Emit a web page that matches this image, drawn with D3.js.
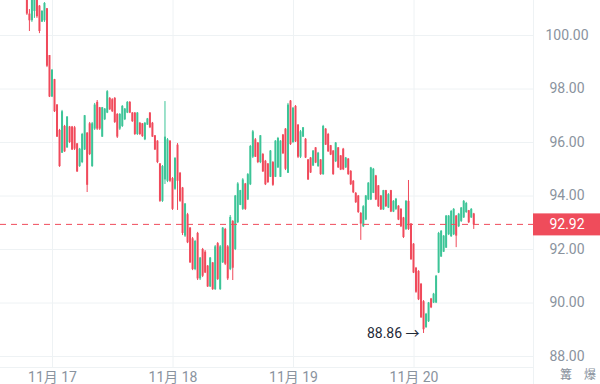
<!DOCTYPE html>
<html>
<head>
<meta charset="utf-8">
<script src="https://cdn.jsdelivr.net/npm/d3@7"></script>
<style>
  body { margin: 0; background: #fff; }
  svg { display: block; font-family: Roboto, "Noto Sans CJK SC", sans-serif; }
</style>
</head>
<body>
<svg id="chart" width="600" height="384"></svg>
<script>
// 30 minute candles, first one at 19:00 on 16 Nov
const startTime = new Date(2022, 10, 16, 19, 0)
const stepMinutes = 30

const opens = [
  101.60, 100.80, 100.55, 100.90, 101.40, 101.10, 100.50, 100.55, 101.00, 99.25,
  97.70, 98.35, 97.40, 96.45, 95.60, 96.60, 95.80, 96.58, 96.58, 96.55,
  95.95, 95.10, 95.25, 95.72, 96.35, 96.70, 95.10, 96.50, 97.50, 97.30,
  96.20, 96.85, 97.10, 97.65, 97.60, 97.65, 97.05, 96.50, 96.60, 96.85,
  97.10, 97.50, 97.10, 97.10, 96.30, 96.72, 96.70, 96.10, 96.65, 97.10,
  96.72, 96.25, 96.05, 95.20, 93.80, 94.60, 94.55, 96.05, 94.65, 94.25,
  95.90, 94.85, 94.30, 92.50, 93.30, 92.80, 92.40, 91.25, 92.60, 90.90,
  92.00, 91.90, 91.38, 90.60, 91.50, 90.50, 92.22, 90.50, 91.50, 92.75,
  92.10, 91.25, 93.05, 92.00, 93.00, 93.65, 93.50, 94.45, 93.85, 94.42,
  95.45, 96.10, 95.98, 95.25, 95.55, 95.30, 95.20, 94.70, 95.25, 94.70,
  95.05, 94.70, 96.28, 96.50, 94.85, 97.55, 96.00, 97.35, 96.65, 95.45,
  96.20, 96.12, 95.35, 95.42, 95.12, 95.80, 95.10, 95.35, 94.80, 96.50,
  96.30, 95.88, 95.68, 95.28, 95.80, 95.50, 95.75, 95.05, 95.38, 94.92,
  94.55, 94.10, 94.00, 93.35, 92.85, 93.10, 93.85, 93.85, 94.10, 94.75,
  94.38, 94.00, 93.48, 94.20, 93.55, 94.20, 93.40, 93.50, 93.62, 93.50,
  93.18, 92.75, 93.80, 92.95, 92.20, 91.30, 91.18, 90.70, 90.05, 89.08,
  89.30, 90.15, 90.00, 90.00, 91.12, 91.72, 91.90, 92.05, 92.55, 92.48,
  92.55, 93.25, 92.85, 93.05, 93.18, 93.38, 93.45, 93.18, 93.33
]
const highs = [
  101.68, 100.97, 101.50, 101.50, 101.50, 101.12, 100.93, 101.23, 101.01, 99.25,
  98.73, 98.36, 97.42, 96.49, 97.20, 96.64, 96.97, 96.60, 96.60, 96.60,
  95.96, 95.78, 96.34, 97.01, 96.37, 96.75, 96.75, 97.46, 97.57, 97.31,
  97.31, 97.27, 97.94, 97.68, 97.64, 97.68, 97.08, 97.08, 97.38, 97.27,
  97.53, 97.53, 97.12, 97.12, 97.12, 96.75, 96.71, 96.75, 96.90, 97.12,
  96.75, 96.26, 96.07, 95.21, 95.14, 97.53, 96.15, 96.07, 94.69, 95.44,
  95.96, 94.88, 94.32, 93.72, 93.35, 92.82, 92.45, 92.34, 92.64, 91.70,
  92.04, 91.96, 91.40, 91.70, 91.51, 92.15, 92.26, 92.15, 92.82, 92.79,
  92.15, 93.27, 93.08, 94.02, 94.50, 94.21, 94.65, 94.47, 94.84, 95.89,
  96.45, 96.15, 96.00, 96.26, 95.59, 95.33, 95.21, 95.70, 95.29, 96.07,
  96.19, 96.07, 96.30, 96.52, 97.46, 97.57, 97.31, 97.38, 96.67, 96.45,
  96.56, 96.15, 95.36, 95.44, 95.70, 95.81, 95.63, 95.36, 96.64, 96.52,
  96.34, 95.89, 95.70, 96.00, 95.81, 95.51, 95.78, 95.44, 95.40, 94.95,
  94.58, 94.13, 94.02, 93.38, 93.64, 94.02, 94.50, 95.07, 95.03, 94.77,
  94.39, 94.02, 94.21, 94.21, 94.09, 94.21, 93.83, 93.91, 93.64, 93.53,
  93.20, 93.83, 94.58, 92.97, 92.22, 91.33, 91.21, 90.73, 90.09, 89.61,
  90.02, 90.17, 90.36, 91.03, 92.64, 92.71, 92.52, 93.27, 93.27, 93.46,
  93.53, 93.27, 93.35, 93.57, 93.83, 93.76, 93.46, 93.53, 93.35
]
const lows = [
  100.75, 100.15, 100.49, 100.64, 100.64, 100.07, 100.49, 100.49, 98.80, 97.68,
  97.68, 97.12, 96.19, 95.07, 95.59, 95.63, 95.78, 95.96, 95.70, 95.70,
  94.88, 95.07, 95.21, 95.70, 94.13, 95.51, 95.07, 96.45, 96.45, 96.45,
  96.19, 96.82, 97.08, 97.20, 97.12, 96.71, 96.15, 96.45, 96.56, 96.82,
  97.08, 97.08, 96.75, 96.26, 96.26, 96.26, 96.19, 96.07, 96.64, 96.52,
  96.19, 95.70, 95.21, 93.76, 93.76, 94.43, 94.50, 94.50, 93.46, 94.21,
  93.46, 93.76, 92.52, 92.45, 92.22, 91.48, 91.21, 91.21, 90.84, 90.84,
  90.95, 91.10, 90.58, 90.58, 90.47, 90.47, 90.84, 90.47, 91.48, 91.40,
  90.84, 91.21, 90.84, 91.96, 92.97, 93.64, 93.46, 93.46, 93.83, 94.39,
  95.40, 95.44, 95.21, 95.21, 94.88, 94.39, 94.47, 94.69, 94.36, 94.69,
  95.03, 94.69, 95.55, 94.95, 94.84, 95.89, 95.96, 96.00, 95.40, 95.40,
  96.19, 95.40, 94.58, 94.84, 95.10, 95.21, 95.07, 94.77, 94.77, 95.89,
  95.63, 95.51, 94.77, 95.25, 95.03, 94.95, 94.95, 95.03, 94.77, 94.39,
  94.09, 93.72, 93.35, 92.34, 92.82, 93.08, 93.83, 93.83, 94.09, 93.83,
  93.57, 93.46, 93.46, 93.57, 93.53, 93.38, 93.38, 93.46, 93.08, 92.82,
  92.41, 92.71, 92.71, 91.59, 91.10, 90.36, 90.09, 89.42, 88.86, 89.05,
  89.27, 89.79, 89.98, 89.98, 91.10, 91.70, 91.89, 92.04, 92.52, 92.45,
  92.52, 92.07, 92.82, 93.01, 93.16, 93.35, 92.97, 93.16, 92.75
]
const closes = [
  100.80, 100.55, 101.35, 101.40, 100.70, 100.15, 100.90, 101.20, 98.85, 97.70,
  98.70, 97.15, 96.20, 95.10, 97.15, 95.65, 96.95, 96.00, 95.72, 95.75,
  94.90, 95.75, 96.30, 97.00, 94.40, 95.55, 96.70, 97.40, 96.50, 96.50,
  97.30, 97.25, 97.90, 97.22, 97.15, 96.75, 96.20, 97.05, 97.35, 97.25,
  97.50, 97.10, 96.78, 96.30, 97.10, 96.30, 96.22, 96.72, 96.88, 96.55,
  96.20, 95.72, 95.25, 93.80, 95.10, 96.20, 96.10, 94.55, 93.50, 95.40,
  94.55, 93.80, 92.60, 93.70, 92.25, 91.50, 91.25, 92.30, 90.90, 91.68,
  91.00, 91.12, 90.60, 91.68, 90.50, 92.10, 90.88, 92.10, 92.80, 91.45,
  90.90, 93.20, 91.30, 94.00, 94.45, 94.20, 94.60, 93.50, 94.80, 95.85,
  96.40, 95.45, 95.25, 96.25, 94.90, 94.42, 94.50, 95.68, 94.40, 96.05,
  96.15, 96.05, 95.58, 95.00, 97.40, 95.92, 97.28, 96.02, 95.45, 96.40,
  96.55, 95.42, 94.60, 94.86, 95.68, 95.23, 95.60, 94.80, 96.60, 95.90,
  95.65, 95.53, 94.80, 95.98, 95.05, 94.97, 94.98, 95.42, 94.80, 94.42,
  94.12, 93.75, 93.38, 92.95, 93.60, 94.00, 94.48, 95.05, 95.00, 93.85,
  93.60, 93.48, 94.20, 93.60, 94.05, 93.40, 93.80, 93.88, 93.10, 92.85,
  92.45, 93.80, 92.75, 91.62, 91.12, 90.40, 90.12, 89.45, 89.00, 89.58,
  90.00, 89.82, 90.33, 91.00, 92.60, 92.68, 92.50, 93.25, 93.25, 93.42,
  93.50, 92.50, 93.32, 93.55, 93.80, 93.72, 93.00, 93.50, 92.92
]

const yTicks = [88, 90, 92, 94, 96, 98, 100]
const dayTicks = [new Date(2022, 10, 17), new Date(2022, 10, 18), new Date(2022, 10, 19), new Date(2022, 10, 20)]
const dayLabels = ["11月 17", "11月 18", "11月 19", "11月 20"]
const cornerLabels = ["篝", "爆"]
const lastPrice = 92.92

const upColor = "#3cc497"
const downColor = "#f04a5b"
const gridColor = "#eef2f4"
const textColor = "#8a939e"

const plotW = 533
const plotH = 367

const data = opens.map((o, i) => ({
    t: new Date(startTime.getTime() + i * stepMinutes * 60000),
    o: o, h: highs[i], l: lows[i], c: closes[i]
}))

const svg = d3.select("#chart")

// scales
const x = d3.scaleTime()
    .domain([dayTicks[0], dayTicks[3]])
    .range([52, 413.5])
const y = d3.scaleLinear()
    .domain([88, 100])
    .range([356, 35])

// horizontal grid
svg.append("g")
    .call(d3.axisLeft(y).tickValues(yTicks).tickSize(-plotW).tickFormat(""))
    .call(g => g.select(".domain").remove())
    .call(g => g.selectAll("line").attr("stroke", gridColor))

// vertical grid
svg.append("g")
    .call(d3.axisTop(x).tickValues(dayTicks).tickSize(-plotH).tickFormat(""))
    .call(g => g.select(".domain").remove())
    .call(g => g.selectAll("line").attr("stroke", gridColor))

// frame lines
svg.append("line").attr("x1", 0).attr("x2", plotW).attr("y1", plotH + 0.5).attr("y2", plotH + 0.5)
    .attr("stroke", gridColor)
svg.append("line").attr("x1", plotW + 0.5).attr("x2", plotW + 0.5).attr("y1", 0).attr("y2", 384)
    .attr("stroke", gridColor)

svg.append("clipPath").attr("id", "plot-clip")
    .append("rect").attr("x", 0).attr("y", 0).attr("width", plotW).attr("height", plotH)

// candles
const candles = svg.append("g").attr("clip-path", "url(#plot-clip)")
    .selectAll("g")
    .data(data)
    .enter()
    .append("g")

candles.append("line")
    .attr("x1", d => x(d.t))
    .attr("x2", d => x(d.t))
    .attr("y1", d => y(d.h))
    .attr("y2", d => y(d.l))
    .attr("stroke", d => d.c >= d.o ? upColor : downColor)
    .attr("stroke-width", 1)

candles.append("rect")
    .attr("x", d => x(d.t) - 1)
    .attr("width", 2)
    .attr("y", d => y(Math.max(d.o, d.c)))
    .attr("height", d => Math.max(1, y(Math.min(d.o, d.c)) - y(Math.max(d.o, d.c))))
    .attr("fill", d => d.c >= d.o ? upColor : downColor)

// last price line
svg.append("line")
    .attr("x1", 0).attr("x2", plotW)
    .attr("y1", y(lastPrice)).attr("y2", y(lastPrice))
    .attr("stroke", downColor)
    .attr("stroke-dasharray", "6,5")

// low marker
const lowest = data.reduce((a, b) => b.l < a.l ? b : a)
svg.append("text")
    .attr("x", x(lowest.t) - 4)
    .attr("y", y(lowest.l) + 5)
    .attr("text-anchor", "end")
    .attr("font-size", 14)
    .attr("fill", "#1f2a37")
    .text(d3.format(".2f")(lowest.l) + " \u2192")

// right axis
svg.append("g")
    .attr("transform", "translate(567,0)")
    .call(d3.axisRight(y).tickValues(yTicks).tickSize(0).tickPadding(0).tickFormat(d3.format(".2f")))
    .call(g => g.select(".domain").remove())
    .call(g => g.selectAll("text")
        .attr("text-anchor", "middle")
        .attr("font-size", 14)
        .attr("font-family", "Roboto, sans-serif")
        .attr("fill", textColor))

// last price tag
svg.append("rect")
    .attr("x", plotW).attr("y", y(lastPrice) - 11)
    .attr("width", 600 - plotW).attr("height", 22)
    .attr("fill", "#ef4c5b")
svg.append("text")
    .attr("x", 567).attr("y", y(lastPrice))
    .attr("dy", "0.35em")
    .attr("text-anchor", "middle")
    .attr("font-size", 14)
    .attr("fill", "#fff")
    .text(d3.format(".2f")(lastPrice))

// bottom axis
svg.append("g")
    .attr("transform", "translate(0," + plotH + ")")
    .call(d3.axisBottom(x).tickValues(dayTicks).tickSize(0).tickPadding(5)
        .tickFormat((d, i) => dayLabels[i]))
    .call(g => g.select(".domain").remove())
    .call(g => g.selectAll("text")
        .attr("font-size", 14)
        .attr("font-family", "Roboto, 'Noto Sans CJK SC', sans-serif")
        .attr("fill", textColor))

svg.selectAll(".corner")
    .data(cornerLabels)
    .enter()
    .append("text")
    .attr("class", "corner")
    .attr("x", (d, i) => 566 + i * 24)
    .attr("y", 379)
    .attr("text-anchor", "middle")
    .attr("font-size", 12)
    .attr("font-family", "'Noto Sans CJK SC', sans-serif")
    .attr("fill", textColor)
    .text(d => d)
</script>
</body>
</html>
